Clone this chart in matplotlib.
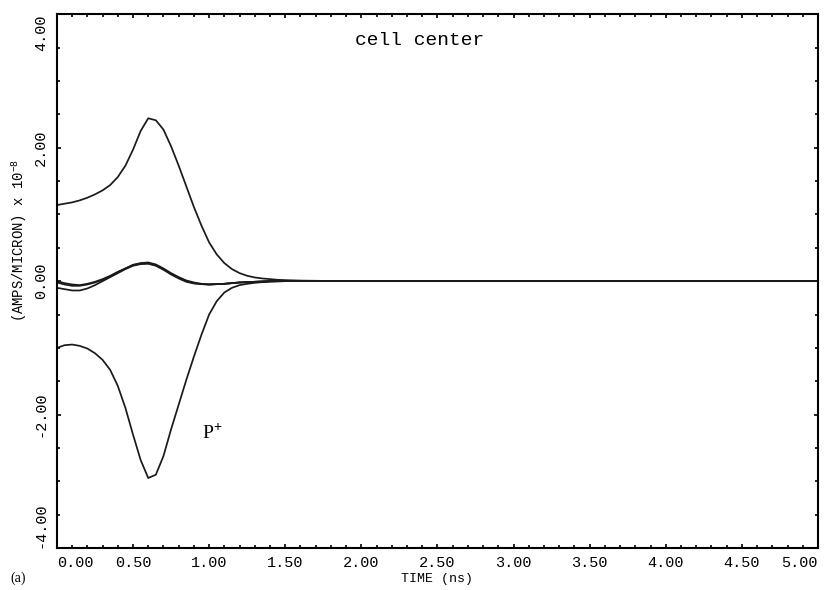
import matplotlib
matplotlib.use("Agg")
import matplotlib.pyplot as plt
from matplotlib.ticker import MultipleLocator
from matplotlib.transforms import blended_transform_factory

plt.rcParams['mathtext.fontset'] = 'custom'
plt.rcParams['mathtext.rm'] = 'Liberation Mono'
plt.rcParams['mathtext.it'] = 'Liberation Mono'

# curves (time in ns, current in 1e-8 A/micron)
t_big = [0.0, 0.05, 0.1, 0.15, 0.2, 0.25, 0.3, 0.35, 0.4, 0.45, 0.5, 0.55, 0.6,
         0.65, 0.7, 0.75, 0.8, 0.85, 0.9, 0.95, 1.0, 1.05, 1.1, 1.15, 1.2, 1.25,
         1.3, 1.35, 1.4, 1.45, 1.5, 1.6, 1.8, 2.0, 5.0]
top = [1.14, 1.16, 1.18, 1.21, 1.25, 1.3, 1.36, 1.44, 1.56, 1.73, 1.97, 2.25, 2.44,
       2.41, 2.27, 2.02, 1.73, 1.42, 1.11, 0.83, 0.58, 0.4, 0.27, 0.18, 0.12, 0.08,
       0.055, 0.04, 0.03, 0.02, 0.015, 0.008, 0.002, 0.0, 0.0]
p_plus = [-1.0, -0.96, -0.95, -0.97, -1.01, -1.08, -1.18, -1.33, -1.57, -1.9, -2.3,
          -2.68, -2.95, -2.9, -2.62, -2.22, -1.85, -1.48, -1.13, -0.8, -0.5, -0.3,
          -0.17, -0.1, -0.06, -0.04, -0.025, -0.015, -0.01, -0.005, 0.0, 0.0, 0.0,
          0.0, 0.0]

t_mid = [0.0, 0.05, 0.1, 0.15, 0.2, 0.25, 0.3, 0.35, 0.4, 0.45, 0.5, 0.55, 0.6,
         0.65, 0.7, 0.75, 0.8, 0.85, 0.9, 0.95, 1.0, 1.1, 1.2, 1.3, 1.4, 5.0]
mid1 = [0.0, -0.03, -0.05, -0.06, -0.04, -0.01, 0.03, 0.08, 0.14, 0.19, 0.24, 0.265,
        0.27, 0.24, 0.18, 0.11, 0.05, 0.0, -0.03, -0.045, -0.05, -0.04, -0.02,
        -0.01, 0.0, 0.0]
mid2 = [-0.1, -0.12, -0.14, -0.14, -0.11, -0.06, 0.0, 0.06, 0.12, 0.18, 0.23, 0.255,
        0.26, 0.23, 0.17, 0.1, 0.04, -0.01, -0.035, -0.045, -0.05, -0.04, -0.02,
        -0.01, 0.0, 0.0]
mid3 = [-0.02, -0.05, -0.07, -0.07, -0.05, -0.02, 0.02, 0.07, 0.13, 0.19, 0.245,
        0.27, 0.28, 0.25, 0.19, 0.12, 0.06, 0.01, -0.02, -0.04, -0.05, -0.04, -0.02,
        -0.01, 0.0, 0.0]

xticks = [0.0, 0.5, 1.0, 1.5, 2.0, 2.5, 3.0, 3.5, 4.0, 4.5, 5.0]
yticks = [-4.0, -2.0, 0.0, 2.0, 4.0]

mono = 'Liberation Mono'

fig = plt.figure(figsize=(8.25, 5.9), dpi=100)
ax = fig.add_axes([0.069, 0.071, 0.9225, 0.905])

for t, v in [(t_big, top), (t_big, p_plus), (t_mid, mid1), (t_mid, mid2), (t_mid, mid3)]:
    ax.plot(t, v, color='#1a1a1a', lw=1.25)

ax.set_xlim(0, 5)
ax.set_ylim(-4, 4)

ax.set_xticks(xticks)
ax.set_yticks(yticks)
ax.xaxis.set_minor_locator(MultipleLocator(0.1))
ax.yaxis.set_minor_locator(MultipleLocator(0.5))
ax.tick_params(which='both', direction='in', top=True, right=True, width=1.2,
               labelbottom=False, labelleft=False)
ax.tick_params(which='major', length=3)
ax.tick_params(which='minor', length=2.5)

for s in ax.spines.values():
    s.set_linewidth(1.5)

# tick labels drawn by hand so the end ones can sit inside the frame
bx = blended_transform_factory(ax.transData, ax.transAxes)
for i, v in enumerate(xticks):
    ha = 'left' if i == 0 else ('right' if i == len(xticks) - 1 else 'center')
    ax.text(v, -0.028, "%.2f" % v, transform=bx, ha=ha, va='center',
            fontsize=11, family=mono)
by = blended_transform_factory(ax.transAxes, ax.transData)
for i, v in enumerate(yticks):
    va = 'bottom' if i == 0 else ('top' if i == len(yticks) - 1 else 'center')
    ax.text(-0.021, v, "%.2f" % v, transform=by, ha='center', va=va, rotation=90,
            fontsize=11, family=mono)

ax.text(-0.049, 0.577, r"(AMPS/MICRON) x 10$^{-8}$", transform=ax.transAxes,
        rotation=90, ha='center', va='center', fontsize=10, family=mono)
ax.text(0.5, -0.058, "TIME (ns)", transform=ax.transAxes, ha='center', va='center',
        fontsize=9.5, family=mono)
fig.text(0.012, 0.02, "(a)", ha='left', va='center', fontsize=10, family='Liberation Serif')
ax.text(2.385, 3.6, "cell center", ha='center', va='center', fontsize=14, family=mono)
ax.text(0.95, -2.28, r"P$^{+}$", ha='left', va='center', fontsize=14, family='Liberation Serif')

fig.savefig("out.png", dpi=100)
